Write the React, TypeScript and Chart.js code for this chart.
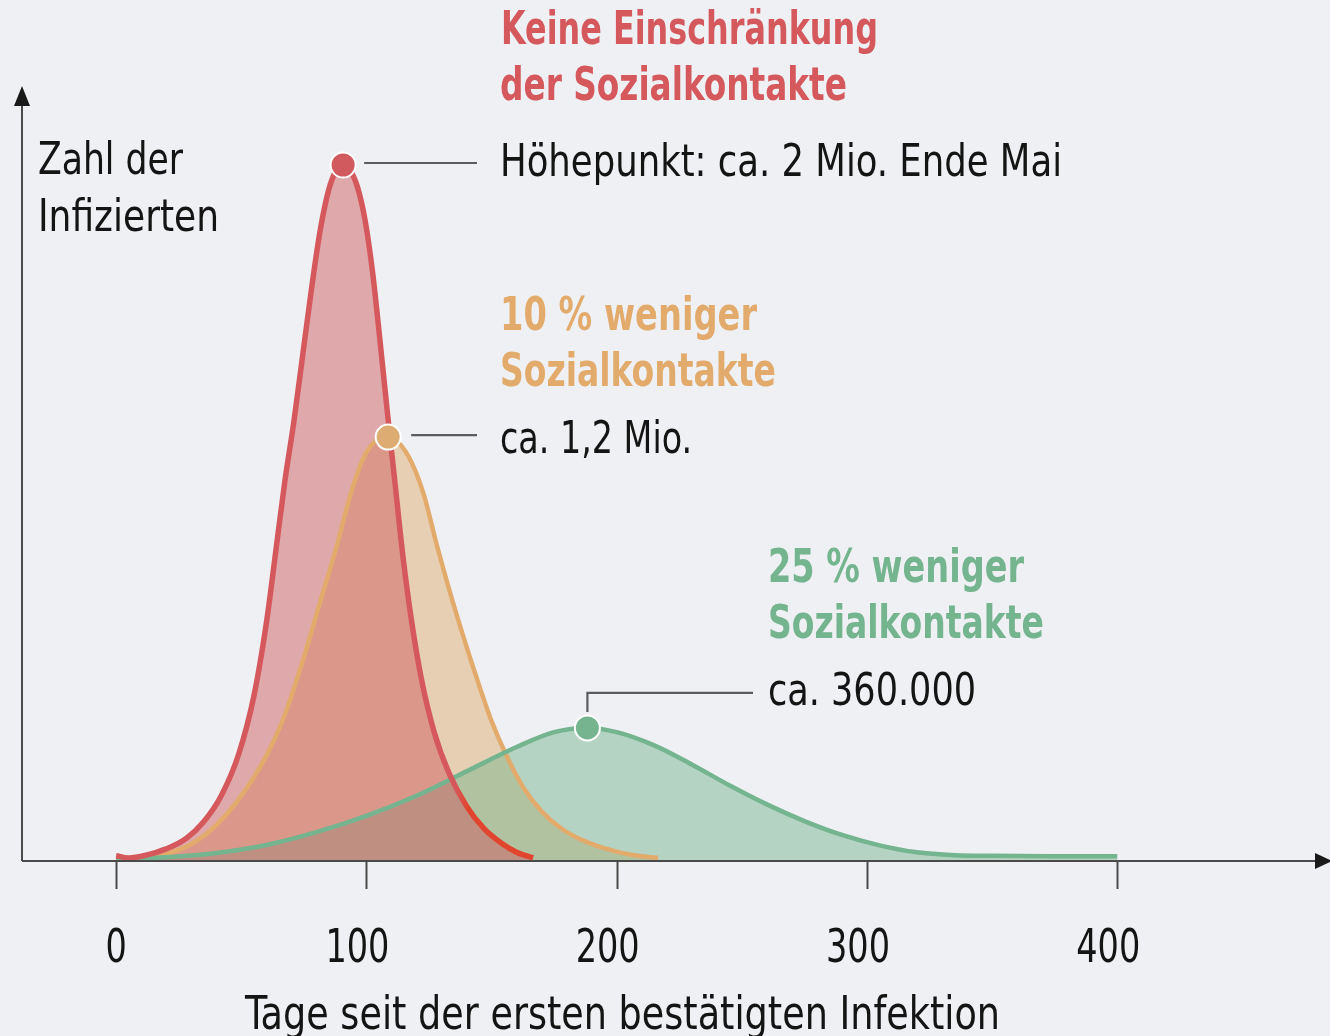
import React, { useEffect, useRef } from 'react';
import { Chart, registerables } from 'chart.js';

Chart.register(...registerables);

// ---- data (days since first confirmed infection, number of infected) ----
const RED_DAYS = [0, 5, 12, 20, 28, 35, 42, 49, 55, 60, 64, 67.5, 71, 74.5, 78, 81.5, 85, 88, 90.7, 93.5, 96.5, 99.5, 102.5, 105.5, 108.5, 111.5, 114.5, 118, 122, 127, 133, 140, 147, 154, 160, 166.6];
const RED_VALUES = [12000, 6000, 14000, 32000, 62000, 110000, 185000, 305000, 470000, 680000, 900000, 1094000, 1260000, 1450000, 1640000, 1810000, 1930000, 1985000, 2000000, 1985000, 1935000, 1840000, 1690000, 1490000, 1280000, 1080000, 880000, 690000, 520000, 370000, 250000, 155000, 90000, 48000, 22000, 6000];

const ORANGE_DAYS = [0, 12, 20, 28, 36, 44, 52, 60, 67, 74, 81, 88, 94, 99, 104, 108.7, 113, 118, 123, 128, 133, 138, 144, 150, 156, 163, 170, 178, 186, 195, 205, 216.6];
const ORANGE_VALUES = [2000, 8000, 18000, 38000, 75000, 130000, 205000, 300000, 410000, 560000, 730000, 900000, 1060000, 1160000, 1208000, 1217000, 1200000, 1145000, 1050000, 910000, 780000, 660000, 525000, 400000, 300000, 205000, 140000, 90000, 58000, 34000, 16000, 6000];

const GREEN_DAYS = [0, 20, 40, 60, 80, 100, 120, 140, 160, 175, 188.3, 200, 215, 230, 245, 260, 275, 290, 305, 320, 335, 350, 375, 400];
const GREEN_VALUES = [3000, 8000, 20000, 43000, 80000, 127000, 185000, 255000, 325000, 368000, 380000, 368000, 330000, 275000, 215000, 160000, 112000, 72000, 42000, 22000, 14000, 12000, 11000, 11000];

const PEAK_DAYS = [90.7, 108.7, 188.3];
const PEAK_VALUES = [2000000, 1217000, 380000];

const X_TICKS = [0, 100, 200, 300, 400];
const X_MIN = -37.6;
const X_MAX = 485;
const Y_MAX = 2221600;
const RED_TAIL_FROM = 138; // day after which the red line turns brighter

const SERIES_TITLES = [
  ['Keine Einschränkung', 'der Sozialkontakte'],
  ['10 % weniger', 'Sozialkontakte'],
  ['25 % weniger', 'Sozialkontakte'],
];
const PEAK_LABELS = ['Höhepunkt: ca. 2 Mio. Ende Mai', 'ca. 1,2 Mio.', 'ca. 360.000'];
const Y_TITLE = ['Zahl der', 'Infizierten'];
const X_TITLE = 'Tage seit der ersten bestätigten Infektion';

// ---- styles ----
const BG = '#eff0f4';
const RED = '#d4585c';
const RED_TAIL = '#e2452f';
const RED_FILL = 'rgba(204,90,93,0.48)';
const ORANGE = '#e2ab6c';
const ORANGE_FILL = 'rgba(220,170,106,0.47)';
const GREEN = '#74b48e';
const GREEN_FILL = 'rgba(114,179,140,0.47)';
const TEXT = '#141414';
const AXIS = '#4a4a4a';
const FONT = '"Liberation Sans Narrow", "DejaVu Sans Condensed", "Open Sans", sans-serif';

function fitText(ctx: any, text: string, x: number, y: number, size: number, weight: string, color: string, width: number) {
  ctx.save();
  ctx.font = `${weight} ${size}px ${FONT}`;
  const w = ctx.measureText(text).width;
  const sx = width / w;
  ctx.translate(x, y);
  ctx.scale(sx, 1);
  ctx.fillStyle = color;
  ctx.textBaseline = 'alphabetic';
  ctx.textAlign = 'left';
  ctx.fillText(text, 0, 0);
  ctx.restore();
}

const decor = {
  id: 'decor',
  beforeDatasetsDraw(chart: any) {
    const { ctx, chartArea, scales } = chart;
    const xs = scales.x;
    const ys = scales.y;
    const y0 = ys.getPixelForValue(0) + 1;
    ctx.save();
    ctx.strokeStyle = AXIS;
    ctx.lineWidth = 2;
    ctx.beginPath();
    ctx.moveTo(chartArea.left, y0);
    ctx.lineTo(chart.width - 10, y0);
    ctx.stroke();
    ctx.beginPath();
    ctx.moveTo(chartArea.left, y0);
    ctx.lineTo(chartArea.left, chartArea.top + 12);
    ctx.stroke();
    X_TICKS.forEach((t) => {
      const px = Math.round(xs.getPixelForValue(t)) + 0.5;
      ctx.beginPath();
      ctx.moveTo(px, y0);
      ctx.lineTo(px, y0 + 28);
      ctx.stroke();
    });
    // leader lines from the peak markers to their labels
    ctx.strokeStyle = '#5c5c5c';
    ctx.lineWidth = 2.2;
    const p0x = xs.getPixelForValue(PEAK_DAYS[0]);
    const p0y = ys.getPixelForValue(PEAK_VALUES[0]);
    ctx.beginPath();
    ctx.moveTo(p0x + 21, p0y - 2);
    ctx.lineTo(477, p0y - 2);
    ctx.stroke();
    const p1x = xs.getPixelForValue(PEAK_DAYS[1]);
    const p1y = ys.getPixelForValue(PEAK_VALUES[1]);
    ctx.beginPath();
    ctx.moveTo(p1x + 23, p1y - 2);
    ctx.lineTo(477, p1y - 2);
    ctx.stroke();
    const p2x = xs.getPixelForValue(PEAK_DAYS[2]);
    const p2y = ys.getPixelForValue(PEAK_VALUES[2]);
    ctx.beginPath();
    ctx.moveTo(p2x, p2y - 16);
    ctx.lineTo(p2x, p2y - 35);
    ctx.lineTo(753, p2y - 35);
    ctx.stroke();
    ctx.restore();
  },
  afterDraw(chart: any) {
    const { ctx, chartArea, scales } = chart;
    const xs = scales.x;
    const ys = scales.y;
    const y0 = ys.getPixelForValue(0) + 1;
    ctx.save();
    ctx.fillStyle = '#1a1a1a';
    ctx.beginPath();
    ctx.moveTo(chart.width + 2, y0);
    ctx.lineTo(chart.width - 15, y0 - 8);
    ctx.lineTo(chart.width - 15, y0 + 8);
    ctx.closePath();
    ctx.fill();
    ctx.beginPath();
    ctx.moveTo(chartArea.left, chartArea.top - 2);
    ctx.lineTo(chartArea.left - 8, chartArea.top + 18);
    ctx.lineTo(chartArea.left + 8, chartArea.top + 18);
    ctx.closePath();
    ctx.fill();
    ctx.restore();

    // tick labels
    ctx.save();
    ctx.font = `normal 46px ${FONT}`;
    const sx = 64 / ctx.measureText('100').width;
    ctx.fillStyle = TEXT;
    ctx.textAlign = 'center';
    ctx.textBaseline = 'alphabetic';
    X_TICKS.forEach((t) => {
      const px = xs.getPixelForValue(t) - (t === 0 ? 0 : 9);
      ctx.save();
      ctx.translate(px, 962);
      ctx.scale(sx, 1);
      ctx.fillText(String(t), 0, 0);
      ctx.restore();
    });
    ctx.restore();

    fitText(ctx, X_TITLE, 245, 1029, 46, 'normal', TEXT, 755);
    fitText(ctx, Y_TITLE[0], 38, 174, 44, 'normal', TEXT, 145);
    fitText(ctx, Y_TITLE[1], 38, 231, 44, 'normal', TEXT, 181);

    fitText(ctx, SERIES_TITLES[0][0], 501, 44, 46, 'bold', RED, 377);
    fitText(ctx, SERIES_TITLES[0][1], 500, 100, 46, 'bold', RED, 347);
    fitText(ctx, PEAK_LABELS[0], 500, 176, 44, 'normal', TEXT, 562);

    fitText(ctx, SERIES_TITLES[1][0], 500, 330, 46, 'bold', ORANGE, 257);
    fitText(ctx, SERIES_TITLES[1][1], 500, 386, 46, 'bold', ORANGE, 276);
    fitText(ctx, PEAK_LABELS[1], 500, 453, 44, 'normal', TEXT, 192);

    fitText(ctx, SERIES_TITLES[2][0], 768, 582, 46, 'bold', GREEN, 256);
    fitText(ctx, SERIES_TITLES[2][1], 768, 638, 46, 'bold', GREEN, 276);
    fitText(ctx, PEAK_LABELS[2], 768, 705, 44, 'normal', TEXT, 208);
  },
};

const toPoints = (days: number[], values: number[]) => days.map((d, i) => ({ x: d, y: values[i] }));

export default function App() {
  const ref = useRef<HTMLCanvasElement>(null);
  useEffect(() => {
    const canvas = ref.current;
    if (!canvas) return;
    const marker = (i: number, color: string) => ({
      type: 'scatter',
      data: [{ x: PEAK_DAYS[i], y: PEAK_VALUES[i] }],
      pointRadius: 12.5,
      pointBackgroundColor: color,
      pointBorderColor: '#ffffff',
      pointBorderWidth: 2,
      showLine: false,
      fill: false,
      clip: false,
    });
    const redStroke = (c: any) => {
      const ch = c.chart;
      const area = ch.chartArea;
      if (!area) return RED;
      const px = ch.scales.x.getPixelForValue(RED_TAIL_FROM);
      const g = ch.ctx.createLinearGradient(px - 6, 0, px + 6, 0);
      g.addColorStop(0, RED);
      g.addColorStop(1, RED_TAIL);
      return g;
    };
    const chart = new Chart(canvas, {
      type: 'line',
      data: {
        datasets: [
          marker(0, '#d05a5e'),
          marker(1, '#ddac72'),
          marker(2, '#76b48f'),
          {
            label: 'Keine Einschränkung der Sozialkontakte',
            data: toPoints(RED_DAYS, RED_VALUES),
            borderColor: redStroke,
            borderWidth: 5.5,
            backgroundColor: RED_FILL,
            fill: 'origin',
            pointRadius: 0,
            cubicInterpolationMode: 'monotone',
          },
          {
            label: '25 % weniger Sozialkontakte',
            data: toPoints(GREEN_DAYS, GREEN_VALUES),
            borderColor: GREEN,
            borderWidth: 4.5,
            backgroundColor: GREEN_FILL,
            fill: 'origin',
            pointRadius: 0,
            cubicInterpolationMode: 'monotone',
          },
          {
            label: '10 % weniger Sozialkontakte',
            data: toPoints(ORANGE_DAYS, ORANGE_VALUES),
            borderColor: ORANGE,
            borderWidth: 4.5,
            backgroundColor: ORANGE_FILL,
            fill: 'origin',
            pointRadius: 0,
            cubicInterpolationMode: 'monotone',
          },
        ] as any,
      },
      options: {
        responsive: false,
        animation: false,
        devicePixelRatio: 1,
        events: [],
        layout: { autoPadding: false, padding: { left: 22, right: 0, top: 88, bottom: 176 } },
        scales: {
          x: { type: 'linear', min: X_MIN, max: X_MAX, display: false },
          y: { type: 'linear', min: 0, max: Y_MAX, display: false },
        },
        plugins: {
          legend: { display: false },
          tooltip: { enabled: false },
          filler: { drawTime: 'beforeDatasetsDraw' },
        },
      } as any,
      plugins: [decor],
    });
    return () => chart.destroy();
  }, []);
  return (
    <div style={{ position: 'absolute', left: 0, top: 0, width: 1330, height: 1036, background: BG, overflow: 'hidden' }}>
      <canvas ref={ref} width={1330} height={1036} style={{ display: 'block', width: 1330, height: 1036 }} />
    </div>
  );
}
